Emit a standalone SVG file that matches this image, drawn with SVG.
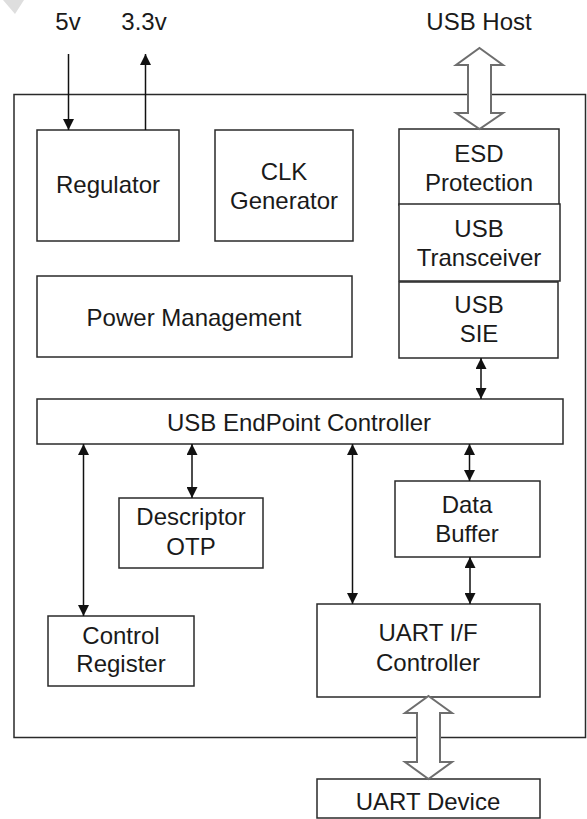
<svg xmlns="http://www.w3.org/2000/svg" width="587" height="819" viewBox="0 0 587 819">
<style>
.box{fill:#fff;stroke:#2a2a2a;stroke-width:1.5}
.t{font-family:"Liberation Sans",Arial,sans-serif;font-size:24px;fill:#1a1a1a;text-anchor:middle}
.c{stroke:#111;stroke-width:1.5;fill:none}
.hollow{fill:#fff;stroke:#6e6e6e;stroke-width:2;stroke-linejoin:miter}
</style>
<defs>
<marker id="ah" viewBox="0 0 10 10" refX="10" refY="5" markerWidth="13" markerHeight="11" markerUnits="userSpaceOnUse" orient="auto-start-reverse">
<path d="M0,0 L10,5 L0,10 z" fill="#111"/>
</marker>
</defs>
<rect width="587" height="819" fill="#fff"/>
<polygon points="3,0 24,0 15,14" fill="#dedede"/>

<g id="outer"><rect x="14" y="94.5" width="571.5" height="643" class="box"/></g>

<g id="labels-top">
<text class="t" x="68" y="30">5v</text>
<text class="t" x="144" y="30">3.3v</text>
<text class="t" x="479" y="30">USB Host</text>
</g>

<g id="regulator"><rect x="37" y="130" width="142" height="111" class="box"/><text class="t" x="108" y="193">Regulator</text></g>
<g id="clk"><rect x="215" y="130" width="138" height="111" class="box"/><text class="t" x="284" y="180">CLK</text><text class="t" x="284" y="209">Generator</text></g>
<g id="esd"><rect x="399" y="129" width="160" height="76" class="box"/><text class="t" x="479" y="162">ESD</text><text class="t" x="479" y="191">Protection</text></g>
<g id="transceiver"><rect x="399" y="204" width="161" height="77" class="box"/><text class="t" x="479" y="237">USB</text><text class="t" x="479" y="266">Transceiver</text></g>
<g id="sie"><rect x="399" y="282" width="159" height="76" class="box"/><text class="t" x="479" y="313">USB</text><text class="t" x="479" y="342">SIE</text></g>
<g id="power"><rect x="37" y="276" width="315" height="81" class="box"/><text class="t" x="194" y="326">Power Management</text></g>
<g id="epc"><rect x="37" y="399" width="526" height="45" class="box"/><text class="t" x="299" y="431">USB EndPoint Controller</text></g>
<g id="otp"><rect x="119" y="498" width="144" height="70" class="box"/><text class="t" x="191" y="525">Descriptor</text><text class="t" x="191" y="555">OTP</text></g>
<g id="databuffer"><rect x="395" y="481" width="145" height="76" class="box"/><text class="t" x="467" y="513">Data</text><text class="t" x="467" y="542">Buffer</text></g>
<g id="uartif"><rect x="317" y="604" width="223" height="93" class="box"/><text class="t" x="428" y="641">UART I/F</text><text class="t" x="428" y="671">Controller</text></g>
<g id="ctrlreg"><rect x="48" y="616" width="146" height="70" class="box"/><text class="t" x="121" y="644">Control</text><text class="t" x="121" y="672">Register</text></g>
<g id="uartdev"><rect x="317" y="779" width="223" height="39" class="box"/><text class="t" x="428" y="810">UART Device</text></g>

<g id="connectors">
<line class="c" x1="68.5" y1="54" x2="68.5" y2="130" marker-end="url(#ah)"/>
<line class="c" x1="145.5" y1="130" x2="145.5" y2="54" marker-end="url(#ah)"/>
<line class="c" x1="481" y1="358" x2="481" y2="399" marker-start="url(#ah)" marker-end="url(#ah)"/>
<line class="c" x1="83.5" y1="444" x2="83.5" y2="616" marker-start="url(#ah)" marker-end="url(#ah)"/>
<line class="c" x1="192" y1="444" x2="192" y2="498" marker-start="url(#ah)" marker-end="url(#ah)"/>
<line class="c" x1="352.5" y1="444" x2="352.5" y2="604" marker-start="url(#ah)" marker-end="url(#ah)"/>
<line class="c" x1="469.5" y1="444" x2="469.5" y2="481" marker-start="url(#ah)" marker-end="url(#ah)"/>
<line class="c" x1="470" y1="557" x2="470" y2="604" marker-start="url(#ah)" marker-end="url(#ah)"/>
<polygon class="hollow" points="479.5,48 503,65 491,65 491,113 503,113 479.5,129 456,113 468,113 468,65 456,65"/>
<polygon class="hollow" points="428.5,696 452,713 440,713 440,762 452,762 428.5,779 405,762 417,762 417,713 405,713"/>
</g>
</svg>
